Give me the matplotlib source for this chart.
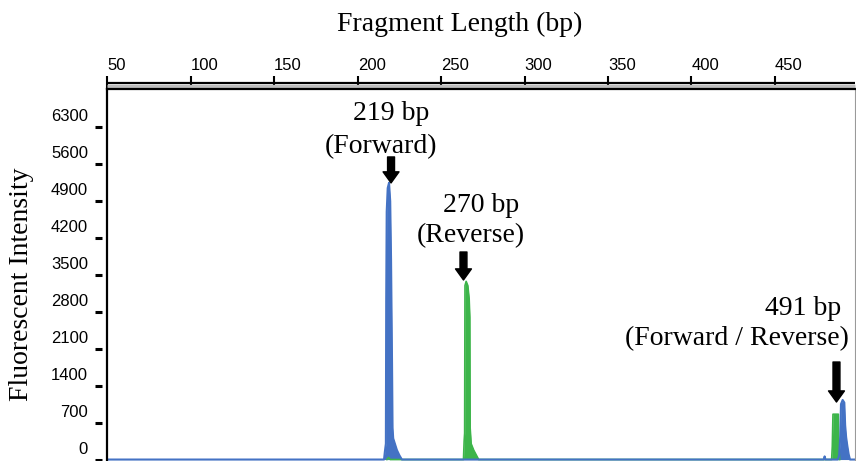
import numpy as np
import matplotlib
matplotlib.use('Agg')
import matplotlib.pyplot as plt
from matplotlib.transforms import ScaledTranslation

azul_bp = [49.8, 215.8, 216.3, 216.9, 217.1, 217.4, 218.0, 218.8, 219.5, 220.0, 220.6,
           220.9, 221.3, 222.3, 223.5, 225.0, 226.5, 479.3, 479.8, 480.3, 487.7, 488.5,
           489.2, 489.6, 490.6, 491.6, 492.1, 492.7, 493.4, 494.2, 495.0, 498.0]
azul_int = [0, 0, 150, 300, 3000, 4700, 5150, 5250, 4900, 3800, 1800,
            600, 400, 300, 180, 80, 0, 0, 60, 0, 0, 80,
            450, 1050, 1130, 1080, 650, 420, 260, 100, 0, 0]

verde_bp = [217.5, 218.5, 219.5, 263.4, 263.8, 264.1, 264.3, 265.0, 266.0, 266.8, 267.2,
            267.4, 268.0, 269.5, 271.5, 272.5, 484.0, 484.4, 484.8, 488.0, 488.3, 488.8]
verde_int = [0, 40, 0, 0, 350, 500, 3300, 3380, 3300, 3050, 2700,
             600, 300, 180, 60, 0, 0, 250, 860, 860, 250, 0]

x_ticks = [50, 100, 150, 200, 250, 300, 350, 400, 450]
y_ticks = [0, 700, 1400, 2100, 2800, 3500, 4200, 4900, 5600, 6300]

cor_azul = '#4472C4'
cor_verde = '#3DB54A'
serif = 'Liberation Serif'
sans = 'Liberation Sans'

fig = plt.figure(figsize=(8.56, 4.61), dpi=100)
ax = fig.add_axes([107/856, 0.001, 748/856, 0.8049])

# Picos
ax.fill_between(verde_bp, verde_int, 0, color=cor_verde, lw=0)
ax.plot(verde_bp, verde_int, color=cor_verde, lw=1.2)
ax.fill_between(azul_bp, azul_int, 0, color=cor_azul, lw=0)
ax.plot(azul_bp, azul_int, color=cor_azul, lw=1.5)

ax.set_xlim(49.8, 498)
ax.set_ylim(-19, 7020)

# Eixo x no topo
ax.set_xticks(x_ticks, labels=[str(v) for v in x_ticks], ha='left',
              fontsize=12, family=sans)
ax.tick_params(axis='x', top=True, labeltop=True, bottom=False, labelbottom=False,
               length=9.7, width=1.5, pad=2, direction='out')

# Eixo y com tracinhos separados
ax.set_yticks(y_ticks, labels=[str(v) for v in y_ticks], fontsize=12, family=sans)
ax.tick_params(axis='y', length=0, pad=13.7)
desloc = ScaledTranslation(0, 12/100, fig.dpi_scale_trans)
for t in ax.get_yticklabels():
    t.set_transform(t.get_transform() + desloc)
ax.hlines(y_ticks, -0.016, -0.0067, transform=ax.get_yaxis_transform(),
          colors='black', lw=2.2, clip_on=False)

ax.spines['bottom'].set_visible(False)
ax.spines['left'].set_linewidth(1.6)
ax.spines['top'].set_linewidth(1.6)
ax.spines['right'].set_linewidth(0.8)
ax.spines['right'].set_color('#9a9a9a')

# Linha dupla no topo
t_cinza = ax.transAxes + ScaledTranslation(0, 3.6/100, fig.dpi_scale_trans)
t_preta = ax.transAxes + ScaledTranslation(0, 6.6/100, fig.dpi_scale_trans)
ax.plot([0, 1], [1, 1], transform=t_cinza, color='#bdbdbd', lw=2.4, clip_on=False,
        solid_capstyle='butt')
ax.plot([0, 1], [1, 1], transform=t_preta, color='black', lw=1.6, clip_on=False,
        solid_capstyle='butt')

# Títulos
fig.text(460/856, (461-31)/461, 'Fragment Length (bp)', ha='center', va='baseline',
         fontsize=20, family=serif)
fig.text(22/856, (461-284)/461, 'Fluorescent Intensity', ha='center', va='center',
         rotation=90, fontsize=20, family=serif)

# Anotações
seta = dict(arrowstyle='simple,head_length=0.8,head_width=1.15,tail_width=0.5',
            mutation_scale=10, fc='black', ec='black', shrinkA=0, shrinkB=0)
ax.annotate('', xy=(220.0, 5247), xytext=(220.0, 5740), arrowprops=seta)
ax.annotate('', xy=(263.4, 3406), xytext=(263.4, 3937), arrowprops=seta)
ax.annotate('', xy=(486.9, 1091), xytext=(486.9, 1850), arrowprops=seta,
            annotation_clip=False)

ax.text(220.0, 6442, '219 bp', ha='center', va='baseline', fontsize=20, family=serif)
ax.text(214.0, 5816, '(Forward)', ha='center', va='baseline', fontsize=20, family=serif)
ax.text(251.0, 4696, '270 bp', ha='left', va='baseline', fontsize=20, family=serif)
ax.text(235.5, 4127, '(Reverse)', ha='left', va='baseline', fontsize=20, family=serif)
ax.text(444.1, 2742, '491 bp', ha='left', va='baseline', fontsize=20, family=serif)
ax.text(360.2, 2173, '(Forward / Reverse)', ha='left', va='baseline', fontsize=20,
        family=serif)

plt.savefig('out.png', dpi=100)
